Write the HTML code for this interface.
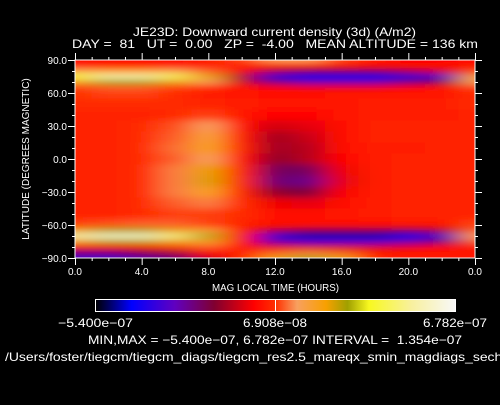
<!DOCTYPE html>
<html><head><meta charset="utf-8"><style>
body{margin:0;background:#000;width:500px;height:400px;overflow:hidden}
svg text{font-family:"Liberation Sans",sans-serif;fill:#fff;white-space:pre}
</style></head><body>
<svg id="chart" width="500" height="400" xmlns="http://www.w3.org/2000/svg">
<defs>
<clipPath id="pc"><rect x="75" y="60" width="400" height="198"/></clipPath>
<filter id="bl" x="-10%" y="-10%" width="120%" height="120%"><feGaussianBlur stdDeviation="13 3.5"/></filter>
<linearGradient id="cg" x1="0" x2="1" y1="0" y2="0">
<stop offset="0" stop-color="#000"/><stop offset="0.1" stop-color="#0000ff"/><stop offset="0.22" stop-color="#6000c0"/>
<stop offset="0.33" stop-color="#800030"/><stop offset="0.44" stop-color="#ff0000"/><stop offset="0.5" stop-color="#ff3000"/>
<stop offset="0.56" stop-color="#f8a060"/><stop offset="0.64" stop-color="#f8a000"/><stop offset="0.7" stop-color="#a0a000"/>
<stop offset="0.76" stop-color="#f8f820"/><stop offset="0.88" stop-color="#f8f0a0"/><stop offset="1" stop-color="#f8f8f8"/>
</linearGradient>
</defs>
<text x="133" y="36" textLength="283" lengthAdjust="spacingAndGlyphs" font-size="12">JE23D: Downward current density (3d) (A/m2)</text>
<text x="72" y="48" textLength="406" lengthAdjust="spacingAndGlyphs" font-size="12">DAY =  81   UT =  0.00   ZP =  -4.00   MEAN ALTITUDE = 136 km</text>
<g clip-path="url(#pc)">
<rect x="75" y="60" width="400" height="198" fill="#ff1000"/>
<g id="cells" filter="url(#bl)"></g>
</g>
<rect x="75" y="60" width="400" height="198" fill="none" stroke="#fff"/>
<g id="axes"></g>
<text x="212" y="291" textLength="127" lengthAdjust="spacingAndGlyphs" font-size="10">MAG LOCAL TIME (HOURS)</text>
<text transform="translate(29,159) rotate(-90)" text-anchor="middle" font-size="10">LATITUDE (DEGREES MAGNETIC)</text>
<rect x="95.5" y="299.5" width="360" height="12" fill="url(#cg)" stroke="#fff"/>
<line x1="275.5" y1="300" x2="275.5" y2="311" stroke="#fff"/>
<text x="58" y="327" textLength="75" lengthAdjust="spacingAndGlyphs" font-size="12">−5.400e−07</text>
<text x="243" y="327" textLength="64" lengthAdjust="spacingAndGlyphs" font-size="12">6.908e−08</text>
<text x="423" y="327" textLength="64" lengthAdjust="spacingAndGlyphs" font-size="12">6.782e−07</text>
<text x="88" y="344" textLength="374" lengthAdjust="spacingAndGlyphs" font-size="12">MIN,MAX = −5.400e−07, 6.782e−07 INTERVAL =  1.354e−07</text>
<text x="5" y="361" textLength="505" lengthAdjust="spacingAndGlyphs" font-size="12">/Users/foster/tiegcm/tiegcm_diags/tiegcm_res2.5_mareqx_smin_magdiags_sech_</text>
</svg>
<script>
const mlt=[0,2,4,6,8,10,12,14,16,18,20,22,24];
const lats=[90,85,80,75,70,65,60,50,40,30,20,10,0,-10,-20,-30,-40,-50,-60,-65,-70,-75,-80,-85,-90];
const row90=[0,0,0,0,0.3,0.8,1.5,1.5,0.8,0.3,0,0,0];
const row85=[0.3,0.3,0.3,0.3,0.5,0.5,0.5,0.5,0.3,0.2,0.2,0.2,0.3];
const row80=[1.5,2,2,1.5,1,0,-1,-1.5,-1.5,-1.5,-1,-0.5,0.8];
const row75=[4,5.5,5.5,4.5,2.5,-1,-3.5,-4,-4,-4,-3.5,-3,2];
const row70=[2,3,3,2.5,1.5,-0.5,-2,-2.5,-2.5,-2.5,-2,-1.5,1.5];
const row65=[0.8,1,1,0.8,0.6,0.2,0,-0.2,-0.2,-0.2,0,0.2,0.8];
const row60=[0.7,0.8,0.8,0.6,0.4,0.3,0.2,0.2,0.3,0.3,0.3,0.3,0.6];
const row50=[0.6,0.6,0.6,0.6,0.5,0.4,0.3,0.3,0.3,0.4,0.4,0.4,0.6];
const row40=[0.5,0.5,0.5,0.6,0.8,0.3,0,0,0.3,0.4,0.4,0.4,0.5];
const row30=[0.5,0.5,0.6,0.9,1.4,0.2,-0.5,-0.3,0.2,0.5,0.5,0.5,0.5];
const row20=[0.5,0.5,0.6,1.0,1.8,0.3,-1,-0.6,0.2,0.5,0.5,0.5,0.5];
const row10=[0.5,0.5,0.6,1.1,2.0,0.4,-1,-0.8,0.1,0.4,0.4,0.5,0.5];
const row0=[0.5,0.5,0.6,1.0,1.5,0.2,-1.2,-0.8,0,0.4,0.5,0.5,0.5];
const rowS10=[0.5,0.5,0.6,1.2,2.5,0.4,-1.8,-1.8,-0.2,0.4,0.5,0.5,0.5];
const rowS20=[0.5,0.5,0.6,1.2,2.6,0.5,-2,-2.2,-0.3,0.4,0.5,0.5,0.5];
const rowS30=[0.5,0.5,0.6,1.2,2.0,0.5,-1.2,-1.5,-0.1,0.4,0.5,0.5,0.5];
const rowS40=[0.5,0.5,0.6,1.0,1.2,0.6,-0.2,-0.3,0.2,0.4,0.5,0.5,0.5];
const rowS50=[0.5,0.5,0.6,0.8,0.8,0.6,0.2,0.2,0.3,0.4,0.5,0.5,0.5];
const rowS60=[0.8,0.9,1,1,0.8,0.5,0.2,0.1,0.1,0.2,0.3,0.3,0.8];
const rowS65=[2.5,3,3,2.5,1.8,0.3,-1,-1.5,-1.5,-1.5,-1.5,-1,1];
const rowS70=[5.5,6,6,5,3,0,-3.5,-4.5,-4.5,-4.5,-4,-3,1.5];
const rowS75=[2.5,3,3,2.5,2,0,-2.5,-3,-3,-3,-2.5,-2,1];
const rowS80=[0,0,0.5,0.8,1,0.3,-0.3,-0.5,-0.5,-0.5,-0.3,0,0.3];
const rowS85=[-2,-2,-1.5,-1,0,0.5,1,1.2,1,0.4,0.3,0.3,0.3];
const rowS90=[-3,-3,-2.5,-2,-0.5,0.5,2.5,3,2.5,0.5,0.3,0.3,0.3];
const grid=[row90,row85,row80,row75,row70,row65,row60,row50,row40,row30,row20,row10,row0,rowS10,rowS20,rowS30,rowS40,rowS50,rowS60,rowS65,rowS70,rowS75,rowS80,rowS85,rowS90];
const xTicks=[0,4,8,12,16,20,24];
const xTickLabels=["0.0","4.0","8.0","12.0","16.0","20.0","0.0"];
const yTicks=[90,60,30,0,-30,-60,-90];
const yTickLabels=["90.0","60.0","30.0","0.0","-30.0","-60.0","-90.0"];
const vmin=-5.4,vmax=6.782;
const X0=75,X1=475,Y0=60,Y1=258;
const xs=h=>X0+(h/24)*(X1-X0);
const ys=l=>Y0+(90-l)/180*(Y1-Y0);
const stops=[[0,[0,0,0]],[0.1,[0,0,255]],[0.22,[96,0,192]],[0.33,[128,0,48]],[0.44,[255,0,0]],[0.5,[255,48,0]],[0.56,[248,160,96]],[0.64,[248,160,0]],[0.7,[160,160,0]],[0.76,[248,248,32]],[0.88,[248,240,160]],[1,[248,248,248]]];
function color(v){let t=(v-vmin)/(vmax-vmin);t=Math.max(0,Math.min(1,t));
for(let i=1;i<stops.length;i++){if(t<=stops[i][0]){const a=stops[i-1],b=stops[i],f=(t-a[0])/(b[0]-a[0]);
return 'rgb('+a[1].map((c,k)=>Math.round(c+(b[1][k]-c)*f)).join(',')+')';}}return 'rgb(248,248,248)';}
const NS='http://www.w3.org/2000/svg';
const cells=document.getElementById('cells');
const dx=(X1-X0)/(mlt.length-1);
grid.forEach((row,j)=>{
 const yc=ys(lats[j]);
 const yTop=j==0?yc-12:(yc+ys(lats[j-1]))/2;
 const yBot=j==lats.length-1?yc+12:(yc+ys(lats[j+1]))/2;
 row.forEach((v,i)=>{
 const x0=i==0?xs(mlt[i])-30:xs(mlt[i])-dx/2;
 const x1=i==mlt.length-1?xs(mlt[i])+30:xs(mlt[i])+dx/2;
 const r=document.createElementNS(NS,'rect');
 r.setAttribute('x',x0);r.setAttribute('y',yTop);
 r.setAttribute('width',x1-x0+0.5);r.setAttribute('height',yBot-yTop+0.5);
 r.setAttribute('fill',color(v));
 
 
 cells.appendChild(r);});});
const ax=document.getElementById('axes');
function ln(x1,y1,x2,y2){const l=document.createElementNS(NS,'line');l.setAttribute('x1',x1);l.setAttribute('y1',y1);l.setAttribute('x2',x2);l.setAttribute('y2',y2);l.setAttribute('stroke','#fff');


ax.appendChild(l);}
for(let h=0;h<=24;h++){const x=xs(h)+0.5,L=h%4==0?7:3;ln(x,Y1,x,Y1+L);ln(x,Y0,x,Y0-L);}
for(let la=-90;la<=90;la+=10){const y=ys(la)+0.5,L=la%30==0?7:3;ln(X0,y,X0-L,y);ln(X1,y,X1+L,y);}
xTicks.forEach((h,i)=>{const t=document.createElementNS(NS,'text');t.setAttribute('x',xs(h));t.setAttribute('y',Y1+17);t.setAttribute('text-anchor','middle');t.setAttribute('font-size','10');t.textContent=xTickLabels[i];


ax.appendChild(t);});
yTicks.forEach((la,i)=>{const t=document.createElementNS(NS,'text');t.setAttribute('x',X0-8);t.setAttribute('y',ys(la)+4);t.setAttribute('text-anchor','end');t.setAttribute('font-size','10');t.textContent=yTickLabels[i].replace('-','−');


ax.appendChild(t);});
</script>
</body></html>
